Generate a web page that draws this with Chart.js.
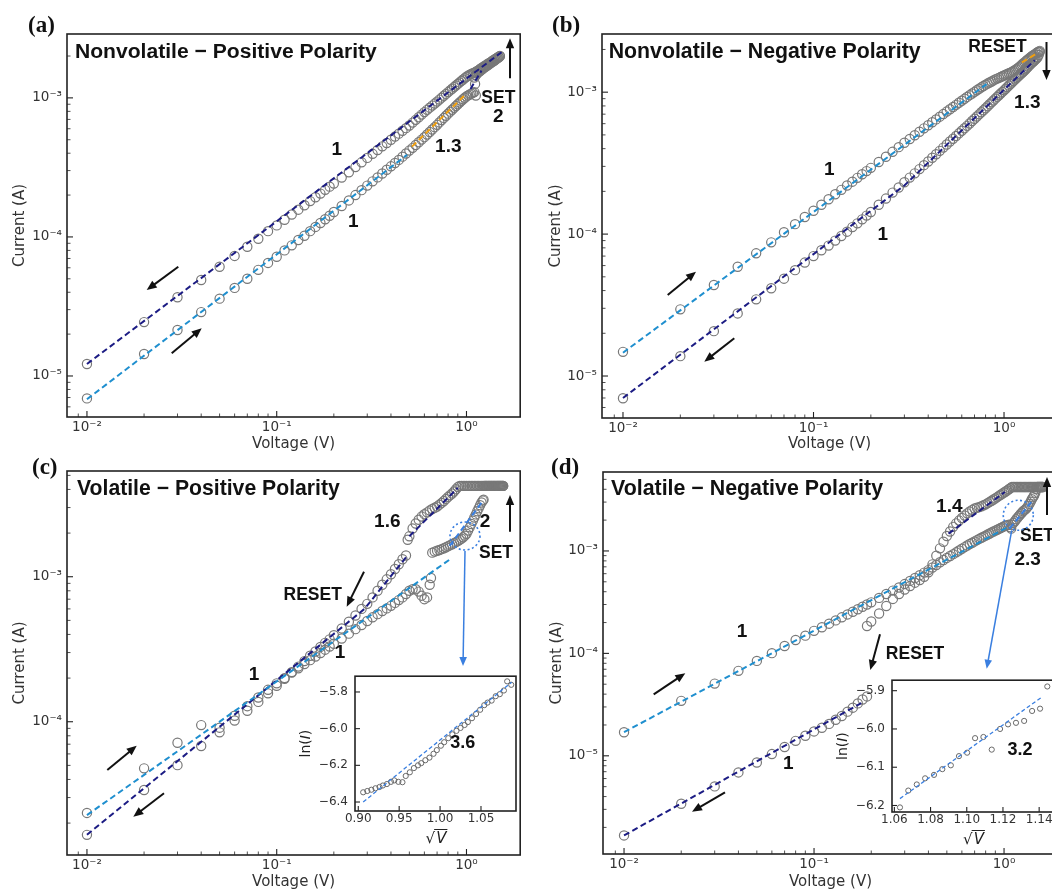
<!DOCTYPE html>
<html>
<head>
<meta charset="utf-8">
<title>I-V curves</title>
<script src="https://cdn.jsdelivr.net/npm/chart.js@4.4.1/dist/chart.umd.min.js"></script>
<style>
  html, body { margin: 0; padding: 0; background: #fff; overflow: hidden; }
  body { position: relative; width: 1052px; height: 890px; }
  canvas { position: absolute; }
</style>
</head>
<body>
<canvas id="chartA"></canvas>
<canvas id="chartB"></canvas>
<canvas id="chartC"></canvas>
<canvas id="chartD"></canvas>
<canvas id="insetC"></canvas>
<canvas id="insetD"></canvas>
<script>
(function () {
    'use strict';

    // ---- data: voltage in V, current in µA ----
    const vLow = [0.01, 0.02, 0.03, 0.04, 0.05, 0.06, 0.07, 0.08, 0.09, 0.10,
        0.11, 0.12, 0.13, 0.14, 0.15, 0.16, 0.17, 0.18, 0.19, 0.20,
        0.22, 0.24, 0.26, 0.28, 0.30, 0.32, 0.34, 0.36, 0.38, 0.40,
        0.42, 0.44, 0.46, 0.48, 0.50];
    const vHigh = [0.52, 0.54, 0.56, 0.58, 0.60, 0.62, 0.64, 0.66, 0.68, 0.70,
        0.72, 0.74, 0.76, 0.78, 0.80, 0.82, 0.84, 0.86, 0.88, 0.90,
        0.92, 0.94, 0.96, 0.98, 1.00, 1.02, 1.04, 1.06, 1.08, 1.10,
        1.12, 1.14, 1.16, 1.18, 1.20, 1.22, 1.24, 1.26, 1.28, 1.30,
        1.32, 1.34, 1.36, 1.38, 1.40, 1.42, 1.44, 1.46, 1.48, 1.50];
    const vTop = [1.52, 1.54, 1.56, 1.58, 1.60];

    // (a) nonvolatile, positive polarity
    const aFwdV = vLow.concat(vHigh.slice(0, 30), [1.12, 1.11, 1.10], vHigh.slice(30));
    const aFwdI = [6.9, 14.4, 21.4, 28.8, 36, 43, 50, 58, 65, 72,
        80, 87, 95, 102, 110, 118, 126, 134, 142, 151,
        167, 183, 200, 217, 234, 251, 268, 286, 304, 322,
        340, 358, 378, 398, 418,
        437, 458, 480, 501, 522, 545, 568, 592, 616, 640,
        666, 692, 718, 744, 770, 796, 822, 848, 874, 900,
        926, 952, 978, 1002, 1025, 1042, 1058, 1072, 1086, 1100,
        1040, 1260, 1400,
        1450, 1500, 1530, 1560, 1590, 1620, 1650, 1675, 1700, 1720,
        1750, 1780, 1800, 1830, 1850, 1880, 1910, 1930, 1960, 1990];
    const aBwdV = vLow.concat(vHigh);
    const aBwdI = [12.2, 24.4, 36.8, 49, 61, 73, 85, 97, 110, 121,
        133, 145, 157, 169, 181, 193, 205, 218, 230, 242,
        267, 292, 318, 344, 370, 396, 422, 448, 474, 500,
        527, 553, 580, 606, 633,
        664, 695, 726, 758, 790, 820, 850, 880, 910, 940,
        972, 1004, 1036, 1068, 1100, 1132, 1164, 1196, 1228, 1260,
        1292, 1324, 1356, 1388, 1420, 1444, 1468, 1488, 1504, 1520,
        1540, 1560, 1584, 1612, 1640, 1664, 1688, 1712, 1736, 1760,
        1784, 1808, 1832, 1856, 1880, 1904, 1928, 1952, 1976, 2000];
    const aFits = [
        [[0.01, 12.2], [1.53, 2130]],
        [[0.01, 6.8], [0.486, 389]],
        [[0.516, 446], [0.984, 1052]],
        [[1.05, 1160], [1.2, 1570]]
    ];

    // (b) nonvolatile, negative polarity
    const bVolt = vLow.concat(vHigh, [1.52, 1.54]);
    const bFwdI = [14.8, 29.5, 43.8, 58.9, 73.2, 87.5, 103, 117.5, 132, 146,
        161, 176, 191, 205, 220, 234, 249, 264, 278, 293,
        322, 351, 380, 410, 440, 468, 497, 526, 556, 585,
        614, 643, 672, 701, 730,
        758, 786, 814, 842, 870, 898, 926, 953, 979, 1005,
        1031, 1057, 1082, 1106, 1130, 1150, 1170, 1190, 1210, 1230,
        1246, 1262, 1278, 1294, 1310, 1326, 1342, 1358, 1374, 1390,
        1410, 1430, 1452, 1476, 1500, 1532, 1564, 1594, 1622, 1650,
        1678, 1706, 1734, 1762, 1790, 1814, 1838, 1862, 1886, 1910,
        1930, 1955];
    const bBwdI = [6.97, 13.8, 20.7, 27.6, 34.7, 41.5, 48.5, 55.7, 63, 70,
        77, 83, 90, 97, 104, 112, 119, 127, 135, 143,
        161, 178, 196, 213, 232, 250, 268, 287, 306, 325,
        345, 365, 386, 407, 428,
        449, 470, 491, 513, 535, 557, 579, 602, 626, 650,
        674, 698, 722, 746, 770, 796, 822, 848, 874, 900,
        926, 952, 978, 1004, 1030, 1058, 1086, 1114, 1142, 1170,
        1198, 1226, 1254, 1282, 1310, 1338, 1366, 1394, 1422, 1450,
        1482, 1514, 1546, 1578, 1610, 1638, 1666, 1696, 1728, 1760,
        1830, 1920];
    const bFits = [
        [[0.01, 14.6], [0.81, 1140]],
        [[1.24, 1620], [1.5, 1890]],
        [[0.01, 7.0], [0.3, 220], [1.45, 1680]]
    ];

    // (c) volatile, positive polarity
    const cFwdV = vLow.concat([0.52, 0.54, 0.56, 0.58, 0.60, 0.62, 0.64, 0.65],
        vHigh.slice(7, 36), [1.23], vHigh.slice(36), [1.52, 1.54, 1.56]);
    const cFwdI = [23.5, 47.7, 71.6, 94.8, 91, 110, 128, 147, 166, 184,
        200, 218, 234, 250, 266, 282, 298, 314, 330, 345,
        375, 405, 435, 465, 495, 525, 552, 580, 605, 630,
        660, 690, 720, 760, 800,
        820, 820, 790, 740, 700, 720, 880, 980,
        1466, 1490, 1510, 1530, 1550, 1572, 1598, 1625, 1650, 1676,
        1704, 1732, 1760, 1794, 1830, 1870, 1920, 1980, 2080, 2190,
        2310, 2430, 2560, 2690, 2830, 2970, 3110, 3250, 3350, 3400,
        4230, 4230, 4230, 4230, 4230, 4230, 4230, 4230, 4230, 4230,
        4230, 4230, 4230, 4230, 4230, 4230, 4230];
    const cBwdV = vLow.slice(0, 34).concat([0.49, 0.50], vHigh, [1.52, 1.54, 1.56]);
    const cBwdI = [16.6, 33.8, 50.2, 68, 84.5, 102, 119, 137, 157, 177,
        198, 220, 240, 262, 285, 305, 328, 350, 370, 395,
        440, 490, 540, 600, 650, 720, 800, 880, 960, 1040,
        1130, 1220, 1320, 1400, 1800, 1900,
        2150, 2330, 2470, 2600, 2700, 2780, 2860, 2930, 2990, 3050,
        3140, 3230, 3330, 3440, 3550, 3650, 3750, 3870, 4010, 4150,
        4230, 4230, 4230, 4230, 4230, 4230, 4230, 4230, 4230, 4230,
        4230, 4230, 4230, 4230, 4230, 4230, 4230, 4230, 4230, 4230,
        4230, 4230, 4230, 4230, 4230, 4230, 4230, 4230, 4230, 4230,
        4230, 4230, 4230];
    const cFits = [
        [[0.01, 22.7], [0.82, 1320]],
        [[0.01, 16.6], [0.29, 600], [0.48, 1360]],
        [[0.5, 1900], [0.9, 4100]],
        [[0.815, 1630], [1.2, 3240]]
    ];

    // (d) volatile, negative polarity
    const dFwdV = vLow.concat(vHigh.slice(0, 28), [1.08, 1.09], vHigh.slice(29), vTop);
    const dFwdI = [17.0, 34.4, 50.7, 67.5, 84.5, 100.5, 118, 135, 149, 166,
        180, 195, 210, 225, 240, 255, 270, 285, 300, 315,
        348, 380, 410, 440, 475, 510, 545, 580, 615, 650,
        690, 730, 775, 815, 855,
        893, 931, 970, 1010, 1050, 1090, 1130, 1168, 1204, 1240,
        1276, 1312, 1346, 1378, 1410, 1446, 1482, 1516, 1548, 1580,
        1612, 1644, 1676, 1708, 1740, 1764, 1788, 1805,
        1700, 1652,
        1800, 1880, 1950, 2040, 2120, 2200, 2280, 2360, 2440, 2500,
        2560, 2650, 2750, 2880, 3030, 3200, 3340, 3480, 3700, 4000,
        4210, 4210, 4210, 4210, 4210, 4210];
    const dBwdV = vLow.slice(0, 19).concat([0.19, 0.20], vLow.slice(20), vHigh, vTop);
    const dBwdI = [1.67, 3.40, 5.03, 6.88, 8.6, 10.4, 12.2, 14.0, 15.7, 17.3,
        18.8, 20.5, 22.5, 24.5, 27, 29.5, 32.5, 35.5, 38,
        185, 205,
        245, 290, 340, 380, 420, 455, 490, 520, 560, 620,
        740, 900, 1060, 1230, 1400,
        1550, 1720, 1860, 1980, 2100, 2220, 2330, 2430, 2520, 2600,
        2640, 2680, 2730, 2790, 2850, 2930, 3010, 3090, 3180, 3260,
        3350, 3450, 3540, 3630, 3720, 3810, 3900, 4000, 4100,
        4210, 4210, 4210, 4210, 4210, 4210, 4210, 4210, 4210, 4210,
        4210, 4210, 4210, 4210, 4210, 4210, 4210, 4210, 4210, 4210,
        4210, 4210, 4210, 4210, 4210, 4210];
    const dFits = [
        [[0.01, 17], [1.05, 1714]],
        [[0.01, 1.67], [0.177, 32.7]],
        [[0.51, 1475], [1.01, 3765]],
        [[1.07, 1652], [1.39, 3005]]
    ];

    // insets: sqrt(V) vs ln(I)
    const insetCX = [0.906, 0.911, 0.916, 0.921, 0.926, 0.930, 0.935, 0.940, 0.944, 0.949,
        0.954, 0.958, 0.963, 0.968, 0.973, 0.977, 0.982, 0.987, 0.992, 0.996,
        1.001, 1.005, 1.010, 1.015, 1.020, 1.025, 1.030, 1.034, 1.039, 1.044,
        1.049, 1.054, 1.058, 1.063, 1.068, 1.073, 1.078, 1.082, 1.087];
    const insetCY = [-6.347, -6.340, -6.333, -6.325, -6.318, -6.310, -6.302, -6.290, -6.282, -6.290,
        -6.292, -6.258, -6.238, -6.215, -6.200, -6.188, -6.172, -6.158, -6.137, -6.117,
        -6.093, -6.074, -6.052, -6.031, -6.012, -5.996, -5.980, -5.964, -5.943, -5.920,
        -5.897, -5.872, -5.858, -5.847, -5.823, -5.812, -5.792, -5.742, -5.761];
    const insetCFit = [[0.906, -6.40], [1.0875, -5.747]];
    const insetDX = [1.0631, 1.0677, 1.0724, 1.0770, 1.0819, 1.0865, 1.0912, 1.0957, 1.1002, 1.1046,
        1.1092, 1.1138, 1.1184, 1.1228, 1.1272, 1.1317, 1.1361, 1.1405, 1.1445];
    const insetDY = [-6.205, -6.161, -6.145, -6.129, -6.120, -6.105, -6.095, -6.071, -6.062, -6.024,
        -6.021, -6.054, -6.000, -5.988, -5.984, -5.979, -5.953, -5.947, -5.889];
    const insetDFit = [[1.0631, -6.182], [1.1414, -5.917]];

    // ---- styles ----
    const NAVY = '#1c1c84';
    const SKY = '#1f8fcf';
    const ORANGE = '#f0a010';
    const BRIGHT = '#3a7fe0';
    const RING = '#787878';
    const INK = '#111';
    const AXIS = '#333';

    Chart.defaults.font.family = "'DejaVu Sans', sans-serif";

    const SUP = { '-': '\u207b', '0': '\u2070', '1': '\u00b9', '2': '\u00b2', '3': '\u00b3',
        '4': '\u2074', '5': '\u2075', '6': '\u2076', '7': '\u2077', '8': '\u2078', '9': '\u2079' };

    function powLabel(v) {
        const e = Math.log10(v);
        if (Math.abs(e - Math.round(e)) > 1e-6) return '';
        return '10' + String(Math.round(e)).split('').map(c => SUP[c]).join('');
    }

    function toPoints(v, i, k) {
        return v.map((x, n) => ({ x: x, y: i[n] * k }));
    }

    function arrow(ctx, x1, y1, x2, y2, color, lw, head) {
        const a = Math.atan2(y2 - y1, x2 - x1);
        const c = Math.cos(a), s = Math.sin(a);
        ctx.strokeStyle = color;
        ctx.fillStyle = color;
        ctx.lineWidth = lw;
        ctx.setLineDash([]);
        ctx.beginPath();
        ctx.moveTo(x1, y1);
        ctx.lineTo(x2 - head * 0.7 * c, y2 - head * 0.7 * s);
        ctx.stroke();
        ctx.beginPath();
        ctx.moveTo(x2, y2);
        ctx.lineTo(x2 - head * c + head * 0.42 * s, y2 - head * s - head * 0.42 * c);
        ctx.lineTo(x2 - head * c - head * 0.42 * s, y2 - head * s + head * 0.42 * c);
        ctx.closePath();
        ctx.fill();
    }

    /**
     * Frame, inward tick marks and text/arrow annotations
     */
    function decoPlugin(spec) {
        return {
            id: 'deco',
            beforeDraw(chart) {
                if (!spec.whiteArea) return;
                const ca = chart.chartArea;
                chart.ctx.save();
                chart.ctx.fillStyle = '#fff';
                chart.ctx.fillRect(ca.left, ca.top, ca.right - ca.left, ca.bottom - ca.top);
                chart.ctx.restore();
            },
            afterDatasetsDraw(chart) {
                const ctx = chart.ctx, ca = chart.chartArea;
                ctx.save();
                ctx.strokeStyle = '#222';
                ['x', 'y'].forEach(id => {
                    const sc = chart.scales[id];
                    sc.ticks.forEach(t => {
                        let len = 5, lw = 1.1;
                        if (sc.type === 'logarithmic') {
                            const e = Math.floor(Math.log10(t.value) + 1e-9);
                            const m = t.value / Math.pow(10, e);
                            if (Math.abs(m - Math.round(m)) > 1e-6) return;
                            if (Math.round(m) !== 1) { len = 3.5; lw = 0.8; } else { len = 6; }
                        }
                        const p = sc.getPixelForValue(t.value);
                        ctx.lineWidth = lw;
                        ctx.beginPath();
                        if (id === 'x') {
                            if (p < ca.left + 1 || p > ca.right - 1) return;
                            ctx.moveTo(p, ca.bottom);
                            ctx.lineTo(p, ca.bottom - len);
                        } else {
                            if (p < ca.top + 1 || p > ca.bottom - 1) return;
                            ctx.moveTo(ca.left, p);
                            ctx.lineTo(ca.left + len, p);
                        }
                        ctx.stroke();
                    });
                });
                ctx.lineWidth = 1.6;
                ctx.strokeRect(ca.left, ca.top, ca.right - ca.left, ca.bottom - ca.top);
                ctx.restore();
            },
            afterDraw(chart) {
                const ctx = chart.ctx, ca = chart.chartArea;
                const X = dx => ca.left + dx, Y = dy => ca.top + dy;
                ctx.save();
                ctx.fillStyle = INK;
                if (spec.panel) {
                    ctx.font = 'bold 23px "Liberation Serif", serif';
                    ctx.textAlign = 'left';
                    ctx.textBaseline = 'alphabetic';
                    ctx.fillText(spec.panel.text, X(spec.panel.dx), Y(spec.panel.dy));
                }
                if (spec.title) {
                    ctx.font = 'bold 20px "Liberation Sans", Arial, sans-serif';
                    const w = ctx.measureText(spec.title.text).width;
                    const size = 20 * spec.title.width / w;
                    ctx.font = 'bold ' + size.toFixed(2) + 'px "Liberation Sans", Arial, sans-serif';
                    ctx.textAlign = 'left';
                    ctx.textBaseline = 'alphabetic';
                    ctx.fillText(spec.title.text, X(spec.title.dx), Y(spec.title.dy));
                }
                (spec.texts || []).forEach(t => {
                    const numeric = /^[0-9.]+$/.test(t[0]);
                    const size = t[3] || (numeric ? 19 : 17.5);
                    ctx.font = 'bold ' + size + 'px "Liberation Sans", Arial, sans-serif';
                    ctx.textAlign = 'center';
                    ctx.textBaseline = 'middle';
                    ctx.fillText(t[0], X(t[1]), Y(t[2]));
                });
                (spec.arrows || []).forEach(a => arrow(ctx, X(a[0]), Y(a[1]), X(a[2]), Y(a[3]), INK, 2, 10));
                (spec.rings || []).forEach(r => {
                    ctx.strokeStyle = BRIGHT;
                    ctx.lineWidth = 1.6;
                    ctx.setLineDash([2, 2.5]);
                    ctx.beginPath();
                    ctx.ellipse(X(r[0]), Y(r[1]), r[2], r[3], 0, 0, Math.PI * 2);
                    ctx.stroke();
                    ctx.setLineDash([]);
                });
                (spec.links || []).forEach(a => arrow(ctx, X(a[0]), Y(a[1]), X(a[2]), Y(a[3]), BRIGHT, 1.5, 9));
                if (spec.insetTitles) {
                    ctx.fillStyle = '#222';
                    ctx.textBaseline = 'middle';
                    ctx.textAlign = 'left';
                    // ln(I), rotated
                    const parts = [['ln(', ''], ['I', 'italic '], [')', '']];
                    let total = 0;
                    parts.forEach(p => { ctx.font = p[1] + '14px "DejaVu Sans"'; total += ctx.measureText(p[0]).width; });
                    ctx.save();
                    ctx.translate(ca.left - 49, (ca.top + ca.bottom) / 2);
                    ctx.rotate(-Math.PI / 2);
                    let px = -total / 2;
                    parts.forEach(p => {
                        ctx.font = p[1] + '14px "DejaVu Sans"';
                        ctx.fillText(p[0], px, 0);
                        px += ctx.measureText(p[0]).width;
                    });
                    ctx.restore();
                    // sqrt(V)
                    const cx = (ca.left + ca.right) / 2, cy = ca.bottom + 28;
                    ctx.font = '15px "DejaVu Sans"';
                    const rw = ctx.measureText('\u221a').width;
                    ctx.font = 'italic 15px "DejaVu Sans"';
                    const vw = ctx.measureText('V').width;
                    const x0 = cx - (rw + vw) / 2;
                    ctx.font = '15px "DejaVu Sans"';
                    ctx.fillText('\u221a', x0, cy);
                    ctx.font = 'italic 15px "DejaVu Sans"';
                    ctx.fillText('V', x0 + rw + 1, cy);
                    ctx.strokeStyle = '#222';
                    ctx.lineWidth = 1;
                    ctx.beginPath();
                    ctx.moveTo(x0 + rw - 1, cy - 9.5);
                    ctx.lineTo(x0 + rw + vw + 2, cy - 9.5);
                    ctx.stroke();
                }
                ctx.restore();
            }
        };
    }

    function sizeCanvas(id, box) {
        const cv = document.getElementById(id);
        cv.width = box.w;
        cv.height = box.h;
        cv.style.left = box.x + 'px';
        cv.style.top = box.y + 'px';
        return cv;
    }

    /**
     * One log-log I-V panel
     */
    function mainChart(id, box, p) {
        const cv = sizeCanvas(id, box);
        const datasets = [];
        p.fits.forEach((f, n) => {
            datasets.push({
                data: f.map(q => ({ x: q[0], y: q[1] * 1e-6 })),
                showLine: true, pointRadius: 0, borderColor: p.fitColors[n],
                borderWidth: 2, borderDash: [6, 3.5], fill: false, order: 0, clip: 0
            });
        });
        p.branches.forEach(b => {
            datasets.push({
                data: toPoints(b[0], b[1], 1e-6),
                showLine: false, pointRadius: 4.6, pointStyle: 'circle',
                pointBorderColor: RING, pointBackgroundColor: 'rgba(0,0,0,0)',
                pointBorderWidth: 1.2, order: 1, clip: 0
            });
        });
        return new Chart(cv, {
            type: 'scatter',
            data: { datasets: datasets },
            options: {
                responsive: false,
                animation: false,
                events: [],
                layout: { padding: { top: box.top, right: box.right, left: 0, bottom: 0 } },
                plugins: { legend: { display: false }, tooltip: { enabled: false } },
                scales: {
                    x: {
                        type: 'logarithmic', min: p.xRange[0], max: p.xRange[1],
                        grid: { display: false, drawTicks: false }, border: { display: false },
                        ticks: { autoSkip: false, maxRotation: 0, minRotation: 0, padding: 2, color: AXIS,
                            font: { size: 13.5 }, callback: v => powLabel(v) },
                        title: { display: true, text: 'Voltage (V)', color: AXIS,
                            font: { size: 15, lineHeight: 1 }, padding: { top: 0, bottom: box.xTitlePad } },
                        afterFit: s => { s.height = box.xH; }
                    },
                    y: {
                        type: 'logarithmic', min: p.yRange[0], max: p.yRange[1],
                        grid: { display: false, drawTicks: false }, border: { display: false },
                        ticks: { autoSkip: false, padding: 5, color: AXIS,
                            font: { size: 13.5 }, callback: v => powLabel(v) },
                        title: { display: true, text: 'Current (A)', color: AXIS,
                            font: { size: 15, lineHeight: 1 }, padding: { top: box.yTitlePad, bottom: 0 } },
                        afterFit: s => { s.width = box.yW; }
                    }
                }
            },
            plugins: [decoPlugin(p.deco)]
        });
    }

    /**
     * Inset: ln(I) vs sqrt(V)
     */
    function insetChart(id, box, p) {
        const cv = sizeCanvas(id, box);
        return new Chart(cv, {
            type: 'scatter',
            data: {
                datasets: [{
                    data: p.fit.map(q => ({ x: q[0], y: q[1] })),
                    showLine: true, pointRadius: 0, borderColor: BRIGHT,
                    borderWidth: 1.3, borderDash: [4, 2.5], order: 0, clip: 0
                }, {
                    data: toPoints(p.x, p.y, 1),
                    showLine: false, pointRadius: 2.6, pointBorderColor: '#6a6a6a',
                    pointBackgroundColor: 'rgba(0,0,0,0)', pointBorderWidth: 1, order: 1, clip: 0
                }]
            },
            options: {
                responsive: false,
                animation: false,
                events: [],
                layout: { padding: { top: box.top, right: box.right, left: 0, bottom: 0 } },
                plugins: { legend: { display: false }, tooltip: { enabled: false } },
                scales: {
                    x: {
                        type: 'linear', min: p.xRange[0], max: p.xRange[1],
                        grid: { display: false, drawTicks: false }, border: { display: false },
                        ticks: { stepSize: p.xStep, includeBounds: false, autoSkip: false, maxRotation: 0,
                            padding: 1, color: AXIS, font: { size: 12 }, callback: v => v.toFixed(2) },
                        afterFit: s => { s.height = box.xH; }
                    },
                    y: {
                        type: 'linear', min: p.yRange[0], max: p.yRange[1],
                        grid: { display: false, drawTicks: false }, border: { display: false },
                        ticks: { stepSize: p.yStep, includeBounds: false, autoSkip: false,
                            padding: 7, color: AXIS, font: { size: 12 },
                            callback: v => v.toFixed(1).replace('-', '\u2212') },
                        afterFit: s => { s.width = box.yW; }
                    }
                }
            },
            plugins: [decoPlugin(p.deco)]
        });
    }

    function init() {
        mainChart('chartA',
            { x: 0, y: 0, w: 526, h: 455, top: 34, right: 4, yW: 67, xH: 38, yTitlePad: 12.5, xTitlePad: 3.5 },
            {
                xRange: [0.00785, 1.919], yRange: [5.07e-6, 2.88e-3],
                fits: aFits, fitColors: [NAVY, SKY, ORANGE, NAVY],
                branches: [[aFwdV, aFwdI], [aBwdV, aBwdI]],
                deco: {
                    panel: { text: '(a)', dx: -39, dy: -2 },
                    title: { text: 'Nonvolatile \u2212 Positive Polarity', dx: 8, dy: 24, width: 302 },
                    texts: [['1', 269.7, 116], ['1', 286.3, 187.7], ['1.3', 381.3, 112.7],
                        ['SET', 431.3, 64.3], ['2', 431.3, 82.7]],
                    arrows: [[111.3, 232.7, 79.7, 256], [104.7, 319.3, 134.7, 294.3], [443, 44.3, 443, 4.3]]
                }
            });

        mainChart('chartB',
            { x: 526, y: 0, w: 540, h: 455, top: 34, right: 9, yW: 76, xH: 37, yTitlePad: 22.5, xTitlePad: 3.5 },
            {
                xRange: [0.00776, 1.897], yRange: [5.06e-6, 2.57e-3],
                fits: bFits, fitColors: [SKY, ORANGE, NAVY],
                branches: [[bVolt, bFwdI], [bVolt, bBwdI]],
                deco: {
                    panel: { text: '(b)', dx: -50, dy: -2 },
                    title: { text: 'Nonvolatile \u2212 Negative Polarity', dx: 6.7, dy: 24, width: 312 },
                    texts: [['RESET', 395.5, 13.5], ['1.3', 425.3, 68.5], ['1', 227.3, 136], ['1', 280.7, 201]],
                    arrows: [[65.7, 261, 94, 237.7], [132.3, 304.3, 102.3, 327.7], [444.5, 8, 444.5, 46]]
                }
            });

        mainChart('chartC',
            { x: 0, y: 445, w: 526, h: 445, top: 26, right: 4, yW: 67, xH: 35, yTitlePad: 12.5, xTitlePad: 0 },
            {
                xRange: [0.00785, 1.919], yRange: [1.205e-5, 5.36e-3],
                fits: cFits, fitColors: [SKY, NAVY, NAVY, BRIGHT],
                branches: [[cFwdV, cFwdI], [cBwdV, cBwdI]],
                deco: {
                    panel: { text: '(c)', dx: -35, dy: 3 },
                    title: { text: 'Volatile \u2212 Positive Polarity', dx: 10, dy: 24, width: 263 },
                    texts: [['1.6', 320.3, 50.7], ['2', 418, 50.7], ['SET', 429, 82], ['RESET', 245.7, 124],
                        ['1', 273, 182], ['1', 187, 204]],
                    arrows: [[443, 60.7, 443, 24], [297, 100.7, 279.7, 135.7], [40.3, 299, 69.7, 274.7],
                        [97, 322.3, 66.3, 345.7]],
                    rings: [[398, 65, 15, 14]],
                    links: [[398, 80, 396, 195]]
                }
            });

        mainChart('chartD',
            { x: 526, y: 445, w: 540, h: 445, top: 27, right: 8, yW: 77, xH: 36, yTitlePad: 23.5, xTitlePad: 0 },
            {
                xRange: [0.00775, 1.923], yRange: [1.10e-6, 5.90e-3],
                fits: dFits, fitColors: [SKY, NAVY, NAVY, BRIGHT],
                branches: [[dFwdV, dFwdI], [dBwdV, dBwdI]],
                deco: {
                    panel: { text: '(d)', dx: -52, dy: 2 },
                    title: { text: 'Volatile \u2212 Negative Polarity', dx: 8, dy: 23, width: 272 },
                    texts: [['1.4', 346.3, 34.7], ['SET', 434, 63.7], ['2.3', 424.7, 88], ['1', 139, 159.7],
                        ['1', 185.3, 291.3], ['RESET', 312, 182.3]],
                    arrows: [[277, 162.3, 267.3, 198], [50.7, 222.3, 82.3, 201.3], [122, 320.3, 89, 339.7],
                        [444, 43, 444, 5]],
                    rings: [[415.3, 43.3, 15, 15]],
                    links: [[408.7, 58.3, 383.7, 196.7]]
                }
            });

        insetChart('insetC',
            { x: 295, y: 662, w: 230, h: 190, top: 10, right: 9, yW: 60, xH: 41 },
            {
                x: insetCX, y: insetCY, fit: insetCFit,
                xRange: [0.896, 1.0928], yRange: [-6.449, -5.714], xStep: 0.05, yStep: 0.2,
                deco: { whiteArea: true, insetTitles: true, texts: [['3.6', 107.7, 67.3, 18]] }
            });

        insetChart('insetD',
            { x: 832, y: 666, w: 230, h: 187, top: 10, right: 8, yW: 60, xH: 41 },
            {
                x: insetDX, y: insetDY, fit: insetDFit,
                xRange: [1.0587, 1.1482], yRange: [-6.217, -5.8726], xStep: 0.02, yStep: 0.1,
                deco: { whiteArea: true, insetTitles: true, texts: [['3.2', 128, 70, 18]] }
            });
    }

    if (document.readyState === 'loading') {
        document.addEventListener('DOMContentLoaded', init);
    } else {
        init();
    }
})();
</script>
</body>
</html>
